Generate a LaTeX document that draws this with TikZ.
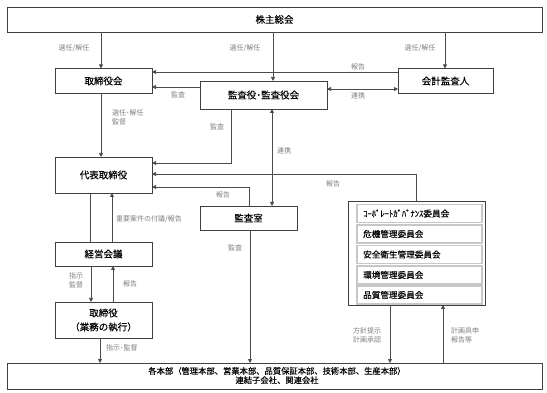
\documentclass[tikz,border=0pt]{standalone}
\usepackage{fontspec}
\setmainfont{Noto Sans CJK JP}
\newfontfamily\jpbold[FakeBold=0.12]{Noto Sans CJK JP}
\usetikzlibrary{arrows.meta,positioning,calc}
\begin{document}
\begin{tikzpicture}[x=1pt,y=-1pt,
  box/.style={draw=black!75,line width=0.9pt,fill=white,inner sep=0pt,outer sep=0pt,font=\jpbold\fontsize{9.5}{11}\selectfont,align=center},
  cbox/.style={draw=black!22,line width=1.1pt,inner sep=0pt,outer sep=0pt,minimum width=125pt,minimum height=18pt,font=\fontsize{8.6}{10}\selectfont},
  ctext/.style={anchor=west,inner sep=0pt,font=\jpbold\fontsize{8.6}{10}\selectfont},
  conn/.style={draw=black!70,line width=0.75pt},
  arr/.style={conn,-{Triangle[width=4pt,length=4pt]}},
  darr/.style={conn,{Triangle[width=4pt,length=4pt]}-{Triangle[width=4pt,length=4pt]}},
  lbl/.style={text=black!50,inner sep=0pt,font=\fontsize{7}{8.7}\selectfont,align=left}
]
\useasboundingbox[fill=white] (0,0) rectangle (547,393);

% boxes
\node[box,minimum width=535pt,minimum height=25pt] (kabu) at (274.5,19.5) {株主総会};
\node[box,minimum width=97pt,minimum height=25pt] (tori) at (103.5,81) {取締役会};
\node[box,minimum width=127pt,minimum height=28pt] (kansa) at (263.5,95) {監査役･監査役会};
\node[box,minimum width=95pt,minimum height=25pt] (kaikei) at (445.5,81) {会計監査人};
\node[box,minimum width=97pt,minimum height=36pt] (daihyo) at (103.5,175) {代表取締役};
\node[box,minimum width=97pt,minimum height=24pt] (shitsu) at (248.5,218) {監査室};
\node[box,minimum width=97pt,minimum height=24pt] (keiei) at (103.5,254) {経営会議};
\node[box,minimum width=97pt,minimum height=36pt,font=\jpbold\fontsize{9.5}{14}\selectfont] (gyomu) at (103.5,320) {取締役\\（業務の執行）};
\node[box,minimum width=535pt,minimum height=26pt] (honbu) at (274.5,376) {};
\node[inner sep=0pt,align=center,font=\jpbold\fontsize{8.3}{9.2}\selectfont] (honbutxt) at (277,375.5) {各本部（管理本部、営業本部、品質保証本部、技術本部、生産本部）\\連結子会社、関連会社};

% committees
\node[box,minimum width=137pt,minimum height=104pt] (comm) at (416.5,253) {};
\node[cbox] (c1) at (419.5,213.5) {};
\node[cbox] (c2) at (419.5,234) {};
\node[cbox] (c3) at (419.5,254.5) {};
\node[cbox] (c4) at (419.5,275) {};
\node[cbox] (c5) at (419.5,295) {};
\node[ctext] (t1) at (363,213.5) {ｺｰﾎﾟﾚｰﾄｶﾞﾊﾞﾅﾝｽ委員会};
\node[ctext] (t2) at (363,234) {危機管理委員会};
\node[ctext] (t3) at (363,254.5) {安全衛生管理委員会};
\node[ctext] (t4) at (363,275) {環境管理委員会};
\node[ctext] (t5) at (363,295) {品質管理委員会};

% connectors
\draw[arr] (kabu.south -| 101,0) -- (tori.north -| 101,0);
\draw[arr] (kabu.south -| 273,0) -- (kansa.north -| 273,0);
\draw[arr] (kabu.south -| 445,0) -- (kaikei.north -| 445,0);
\draw[arr] (kaikei.west |- 0,72) -- (tori.east |- 0,72);
\draw[arr] (kansa.west |- 0,87) -- (tori.east |- 0,87);
\draw[darr] (kansa.east |- 0,89) -- (kaikei.west |- 0,89);
\draw[arr] (tori.south -| 101,0) -- (daihyo.north -| 101,0);
\draw[arr] (kansa.south -| 231,0) |- (daihyo.east |- 0,163);
\draw[darr] (kansa.south -| 272,0) -- (shitsu.north -| 272,0);
\draw[arr] (comm.north -| 416,0) |- (daihyo.east |- 0,174);
\draw[arr] (shitsu.north -| 249,0) |- (daihyo.east |- 0,187);
\draw[conn] (daihyo.south -| 90,0) -- (keiei.north -| 90,0);
\draw[arr] (keiei.north -| 112,0) -- (daihyo.south -| 112,0);
\draw[arr] (keiei.south -| 91,0) -- (gyomu.north -| 91,0);
\draw[arr] (gyomu.north -| 113,0) -- (keiei.south -| 113,0);
\draw[arr] (gyomu.south -| 100,0) -- (honbu.north -| 100,0);
\draw[arr] (shitsu.south -| 250,0) -- (honbu.north -| 250,0);
\draw[arr] (comm.south -| 390,0) -- (honbu.north -| 390,0);
\draw[arr] (honbu.north -| 443,0) -- (comm.south -| 443,0);

% labels
\node[lbl] (l1) at (74,48) {選任/解任};
\node[lbl] (l2) at (245,48) {選任/解任};
\node[lbl] (l3) at (420,48) {選任/解任};
\node[lbl] (l4) at (358,67) {報告};
\node[lbl] (l5) at (178,95) {監査};
\node[lbl] (l6) at (358,96) {連携};
\node[lbl,anchor=west] (l7) at (112,117.5) {選任･解任\\監督};
\node[lbl] (l8) at (217,127) {監査};
\node[lbl] (l9) at (284,151) {連携};
\node[lbl] (l10) at (333,184) {報告};
\node[lbl] (l11) at (223,195) {報告};
\node[lbl,anchor=west] (l12) at (116,219) {重要案件の付議/報告};
\node[lbl] (l13) at (235,248) {監査};
\node[lbl,align=center] (l14) at (76,280.5) {指示\\監督};
\node[lbl] (l15) at (130,284) {報告};
\node[lbl,anchor=west] (l16) at (106,348) {指示･監督};
\node[lbl,anchor=west] (l17) at (353,335.5) {方針提示\\計画承認};
\node[lbl,anchor=west] (l18) at (451,335.5) {計画具申\\報告等};
\end{tikzpicture}
\end{document}
